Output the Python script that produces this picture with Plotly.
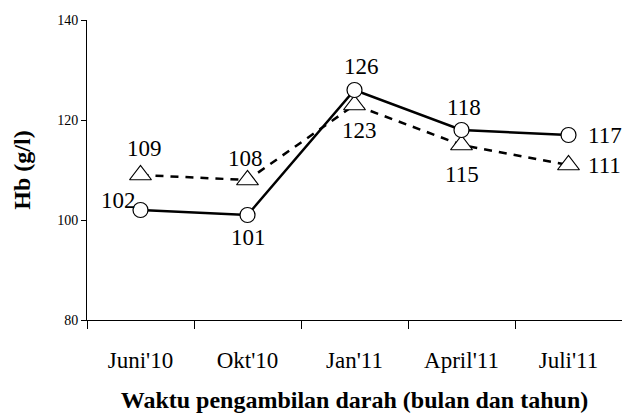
import plotly.graph_objects as go

categories = ["Juni'10", "Okt'10", "Jan'11", "April'11", "Juli'11"]
series_circle = [102, 101, 126, 118, 117]
series_triangle = [109, 108, 123, 115, 111]
y_ticks = [80, 100, 120, 140]

font_family = "Liberation Serif, Times New Roman, serif"

# label offsets in pixels (dx, dy up)
circle_label_shift = [(-22, 10), (1, -22), (7, 24), (2, 23), (36, 0)]
triangle_label_shift = [(4, 27), (-2, 22), (5, -25), (0, -29), (36, 0)]

fig = go.Figure()

fig.add_trace(go.Scatter(
    x=categories, y=series_triangle, mode="lines+markers",
    line=dict(color="black", width=2.5, dash="8px,7px"),
    marker=dict(symbol="triangle-up", size=19, color="white",
                line=dict(width=1.2, color="black")),
    cliponaxis=False, showlegend=False, hoverinfo="skip",
))

fig.add_trace(go.Scatter(
    x=categories, y=series_circle, mode="lines+markers",
    line=dict(color="black", width=2.5),
    marker=dict(symbol="circle", size=15, color="white",
                line=dict(width=1.2, color="black")),
    cliponaxis=False, showlegend=False, hoverinfo="skip",
))

annotations = []
for vals, shifts in ((series_circle, circle_label_shift), (series_triangle, triangle_label_shift)):
    for c, v, (dx, dy) in zip(categories, vals, shifts):
        annotations.append(dict(
            x=c, y=v, text=str(v), showarrow=False,
            xshift=dx, yshift=dy,
            font=dict(family=font_family, size=23, color="black"),
        ))

fig.update_layout(
    width=622, height=414,
    margin=dict(l=87, r=0, t=20, b=94, autoexpand=False),
    paper_bgcolor="white", plot_bgcolor="white",
    font=dict(family=font_family, color="black"),
    annotations=annotations,
    xaxis=dict(
        type="category", range=[-0.5, 4.5], automargin=False,
        showline=True, linecolor="black", linewidth=1,
        ticks="outside", ticklen=8, tickcolor="black", tickwidth=1,
        tickson="boundaries", showgrid=False, zeroline=False,
        tickfont=dict(family=font_family, size=23, color="black"),
        ticklabelstandoff=19,
        title=dict(text="<b>Waktu pengambilan darah (bulan dan tahun)</b>",
                   font=dict(family=font_family, size=24, color="black"),
                   standoff=19),
    ),
    yaxis=dict(
        range=[80, 140], tickvals=y_ticks, automargin=False,
        showline=True, linecolor="black", linewidth=1,
        ticks="outside", ticklen=5, tickcolor="black", tickwidth=1,
        showgrid=False, zeroline=False,
        tickfont=dict(family=font_family, size=14, color="black"),
        title=dict(text="<b>Hb (g/l)</b>",
                   font=dict(family=font_family, size=24, color="black"),
                   standoff=19),
    ),
)

fig.write_html("out.html", config={"displayModeBar": False},
               post_script="document.body.style.margin='0';")
